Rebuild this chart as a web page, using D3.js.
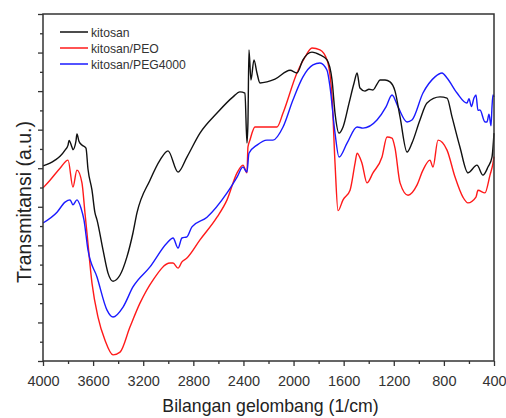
<!DOCTYPE html>
<html>
<head>
<meta charset="utf-8">
<script src="https://cdn.jsdelivr.net/npm/d3@7"></script>
<style>
  body { margin: 0; background: #fff; }
  svg { display: block; font-family: "Liberation Sans", Arial, sans-serif; }
</style>
</head>
<body>
<div id="chart-area"></div>
<script>
// series names
var seriesNames = ["kitosan", "kitosan/PEO", "kitosan/PEG4000"];

// wavenumber (1/cm) and transmittance (a.u.)
var kitosanWave = [4000, 3944, 3904, 3864, 3824, 3800, 3792, 3769, 3761, 3737, 3729, 3713, 3689, 3657, 3641, 3609, 3585, 3569, 3521, 3481, 3441, 3385, 3330, 3282, 3250, 3146, 3066, 3002, 2922, 2851, 2747, 2611, 2483, 2428, 2388, 2372, 2364, 2356, 2340, 2316, 2292, 2268, 2212, 2148, 2028, 1973, 1925, 1853, 1789, 1733, 1693, 1669, 1637, 1605, 1557, 1517, 1493, 1470, 1430, 1398, 1366, 1334, 1310, 1270, 1230, 1190, 1150, 1094, 1055, 991, 935, 831, 775, 735, 672, 608, 536, 488, 448, 416, 400];
var kitosanVal = [5.06, 5.13, 5.21, 5.31, 5.47, 5.60, 5.72, 5.55, 5.48, 5.70, 5.89, 5.70, 5.60, 5.52, 4.98, 4.43, 3.84, 3.66, 2.88, 2.28, 2.07, 2.23, 2.70, 3.32, 3.84, 4.69, 5.21, 5.45, 4.90, 5.29, 5.91, 6.43, 6.85, 6.98, 6.95, 5.65, 6.20, 8.07, 7.29, 7.81, 7.47, 7.21, 7.24, 7.31, 7.54, 7.47, 7.81, 8.01, 7.94, 7.81, 7.29, 6.43, 5.91, 6.07, 6.69, 7.21, 7.47, 7.08, 7.00, 7.05, 7.03, 7.18, 7.29, 7.29, 7.24, 7.00, 6.33, 5.42, 5.65, 6.25, 6.69, 6.85, 6.82, 6.33, 5.55, 4.88, 5.08, 4.82, 5.03, 5.29, 5.91];

var peoWave = [4000, 3944, 3864, 3800, 3761, 3729, 3689, 3665, 3649, 3609, 3561, 3505, 3441, 3385, 3306, 3226, 3122, 2986, 2962, 2922, 2891, 2851, 2747, 2611, 2531, 2451, 2404, 2372, 2364, 2348, 2308, 2132, 2084, 1973, 1909, 1853, 1789, 1733, 1693, 1669, 1645, 1605, 1549, 1509, 1493, 1454, 1414, 1366, 1294, 1254, 1214, 1190, 1150, 1086, 1015, 967, 911, 887, 847, 775, 711, 648, 608, 544, 528, 472, 432, 408, 400];
var peoVal = [4.49, 4.69, 5.00, 5.21, 4.51, 4.95, 4.62, 3.84, 3.32, 2.02, 1.14, 0.54, 0.16, 0.23, 0.88, 1.50, 2.10, 2.54, 2.54, 2.41, 2.57, 2.67, 3.14, 3.73, 4.18, 4.88, 5.08, 4.88, 5.55, 5.73, 6.07, 6.07, 6.43, 7.47, 7.88, 8.12, 8.07, 7.81, 6.85, 5.13, 3.90, 4.18, 4.43, 5.13, 5.39, 5.13, 4.62, 4.88, 5.29, 5.81, 5.78, 5.52, 4.62, 4.30, 4.56, 4.95, 5.21, 5.03, 5.73, 5.47, 4.77, 4.25, 4.10, 4.25, 4.43, 4.36, 4.82, 5.13, 5.30];

var pegWave = [4000, 3888, 3824, 3784, 3761, 3729, 3697, 3673, 3641, 3569, 3489, 3441, 3361, 3282, 3146, 3010, 2962, 2922, 2891, 2851, 2811, 2691, 2531, 2451, 2404, 2372, 2356, 2292, 2212, 2164, 2084, 2005, 1925, 1845, 1789, 1733, 1709, 1669, 1637, 1573, 1493, 1446, 1334, 1262, 1214, 1166, 1094, 1055, 967, 871, 815, 775, 695, 616, 600, 580, 560, 544, 528, 512, 472, 456, 440, 424, 416, 408, 400];
var pegVal = [3.58, 3.86, 4.12, 4.18, 4.05, 4.18, 3.97, 3.66, 2.88, 2.18, 1.32, 1.14, 1.40, 1.92, 2.44, 3.06, 3.19, 2.93, 3.19, 3.22, 3.48, 3.73, 4.36, 4.77, 5.03, 4.90, 5.39, 5.60, 5.73, 5.73, 6.07, 6.77, 7.37, 7.68, 7.73, 7.54, 7.11, 5.91, 5.29, 5.65, 6.07, 6.04, 6.25, 6.59, 6.90, 6.59, 6.20, 6.25, 6.95, 7.37, 7.47, 7.34, 6.95, 6.69, 6.80, 6.60, 6.82, 6.90, 6.50, 6.51, 6.20, 6.20, 6.40, 6.10, 6.59, 6.90, 6.85];

var xTickLabels = [4000, 3600, 3200, 2800, 2400, 2000, 1600, 1200, 800, 400];

var colors = ["#111111", "#ff1a1a", "#1a1aff"];

var svgW = 506, svgH = 418;
var margin = {left: 43, right: 12, top: 14, bottom: 57};
var width = svgW - margin.left - margin.right;
var height = svgH - margin.top - margin.bottom;

var svg = d3.select("#chart-area").append("svg")
    .attr("width", svgW)
    .attr("height", svgH);

var g = svg.append("g")
    .attr("transform", "translate(" + margin.left + "," + margin.top + ")");

// X scale (reversed wavenumber)
var x = d3.scaleLinear()
  .domain([4000, 400])
  .range([0, width]);

// Y scale (arbitrary units)
var y = d3.scaleLinear()
  .domain([0, 9])
  .range([height, 0]);

function zip(w, v) {
  return w.map((d, i) => ({w: d, v: v[i]}));
}

var series = [
  zip(kitosanWave, kitosanVal),
  zip(peoWave, peoVal),
  zip(pegWave, pegVal)
];

var line = d3.line()
  .x(d => x(d.w))
  .y(d => y(d.v))
  .curve(d3.curveMonotoneX);

// curves
g.append("g")
  .selectAll("path")
  .data([1, 2, 0])
  .enter()
  .append("path")
    .attr("fill", "none")
    .attr("stroke", i => colors[i])
    .attr("stroke-width", 1.4)
    .attr("stroke-linejoin", "round")
    .attr("d", i => line(series[i]));

// X axis, major and minor ticks
var minorX = d3.range(3800, 400, -400);
g.append("g")
  .attr("transform", "translate(0," + height + ")")
  .call(d3.axisBottom(x).tickValues(minorX).tickSize(3).tickFormat(""))
  .call(a => a.select(".domain").remove())
  .selectAll("line").attr("stroke", "#333").attr("stroke-width", 1.3);

var xAxisGroup = g.append("g")
  .attr("transform", "translate(0," + height + ")")
  .call(d3.axisBottom(x).tickValues(xTickLabels).tickSize(5).tickPadding(10).tickFormat(d3.format("d")));
xAxisGroup.select(".domain").remove();
xAxisGroup.selectAll("line").attr("stroke", "#333").attr("stroke-width", 1.3);
xAxisGroup.selectAll("text")
  .attr("font-size", "14.5px")
  .attr("font-family", "Liberation Sans, Arial, sans-serif")
  .attr("fill", "#333");

// Y axis, unlabeled ticks
g.append("g")
  .call(d3.axisLeft(y).tickValues(d3.range(0.5, 9, 1)).tickSize(3).tickFormat(""))
  .call(a => a.select(".domain").remove())
  .selectAll("line").attr("stroke", "#333").attr("stroke-width", 1.3);

g.append("g")
  .call(d3.axisLeft(y).tickValues(d3.range(0, 10, 1)).tickSize(5).tickFormat(""))
  .call(a => a.select(".domain").remove())
  .selectAll("line").attr("stroke", "#333").attr("stroke-width", 1.3);

// frame
g.append("rect")
  .attr("width", width)
  .attr("height", height)
  .attr("fill", "none")
  .attr("stroke", "#333")
  .attr("stroke-width", 1.5);

// X label
g.append("text")
  .attr("x", width / 2 + 2)
  .attr("y", height + 51)
  .attr("font-size", "17.7px")
  .attr("text-anchor", "middle")
  .attr("fill", "#222")
  .text("Bilangan gelombang (1/cm)");

// Y label
g.append("text")
  .attr("transform", "rotate(-90)")
  .attr("x", -188)
  .attr("y", -12)
  .attr("font-size", "19.5px")
  .attr("text-anchor", "middle")
  .attr("fill", "#222")
  .text("Transmitansi (a.u.)");

// legend
var legend = g.append("g")
  .attr("transform", "translate(17,18)");

var rows = legend.selectAll("g")
  .data(seriesNames)
  .enter()
  .append("g")
    .attr("transform", (d, i) => "translate(0," + (i * 16) + ")");

rows.append("line")
  .attr("x1", 0).attr("x2", 28)
  .attr("stroke", (d, i) => colors[i])
  .attr("stroke-width", 1.5);

rows.append("text")
  .attr("x", 31)
  .attr("y", 4.5)
  .attr("font-size", "12.2px")
  .attr("fill", "#333")
  .text(d => d);
</script>
</body>
</html>
